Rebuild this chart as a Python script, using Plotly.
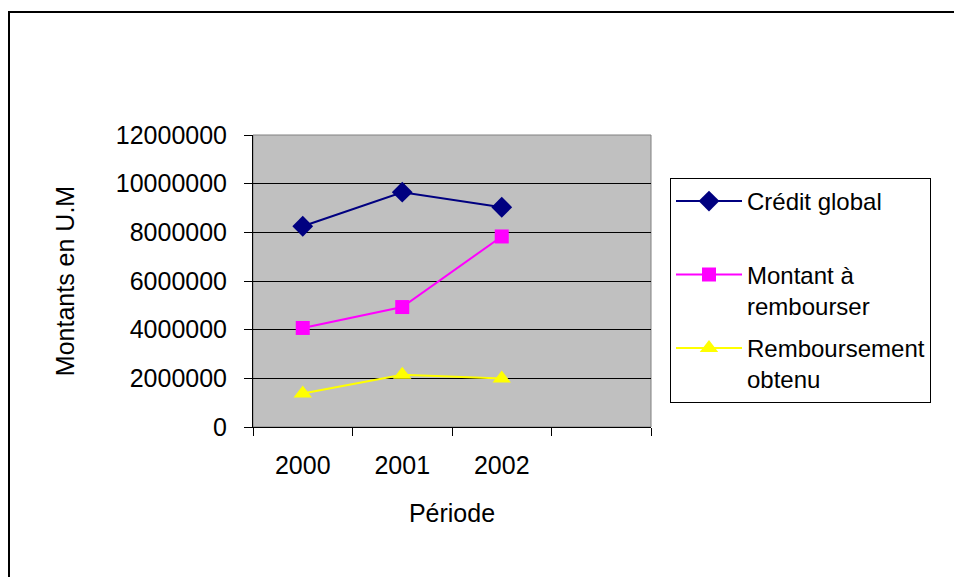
import plotly.graph_objects as go

years = ["2000", "2001", "2002"]
slots = ["2000", "2001", "2002", " "]
credit_global = [8250000, 9650000, 9030000]
montant_rembourser = [4070000, 4930000, 7830000]
remboursement_obtenu = [1380000, 2150000, 1990000]
names = ["Crédit global<br> ", "Montant à<br>rembourser", "Remboursement<br>obtenu"]

FONT = "Arial, Liberation Sans, sans-serif"
OFF = 8  # page body margin
W, H = 962 - OFF, 577 - OFF
# plot area in screen pixels
SL, SR, ST, SB = 253, 651, 135, 427
L, R, T, B = SL - OFF, SR - OFF, ST - OFF, SB - OFF
pw, ph = R - L, B - T

def px(x):
    return (x - OFF - L) / pw

def py(y):
    return (B - (y - OFF)) / ph

fig = go.Figure()
fig.add_trace(go.Scatter(x=years, y=credit_global, name=names[0], mode="lines+markers",
                         line=dict(color="#000080", width=2),
                         marker=dict(symbol="diamond", size=16, color="#000080"),
                         legendgroup="a"))
fig.add_trace(go.Scatter(x=years, y=montant_rembourser, name=names[1], mode="lines+markers",
                         line=dict(color="#FF00FF", width=2),
                         marker=dict(symbol="square", size=14, color="#FF00FF"),
                         legendgroup="b"))
fig.add_trace(go.Scatter(x=years, y=remboursement_obtenu, name=names[2], mode="lines+markers",
                         line=dict(color="#FFFF00", width=2),
                         marker=dict(symbol="triangle-up", size=16, color="#FFFF00"),
                         legendgroup="c"))

fig.update_layout(
    width=W, height=H, autosize=False,
    margin=dict(l=L, r=W - R, t=T, b=H - B, pad=0),
    paper_bgcolor="white", plot_bgcolor="#C0C0C0",
    font=dict(family=FONT, size=25, color="black"),
    showlegend=True,
    legend=dict(x=px(670), y=py(178), xanchor="left", yanchor="top",
                bordercolor="black", borderwidth=1, bgcolor="white",
                font=dict(size=24), tracegroupgap=8, itemwidth=66,
                valign="top", traceorder="grouped"),
    xaxis=dict(type="category", categoryorder="array", categoryarray=slots,
               range=[-0.5, 3.5], tickson="boundaries", ticks="outside", ticklen=8,
               tickcolor="black", showline=True, linecolor="black", linewidth=1,
               showgrid=False, zeroline=False, ticklabelstandoff=16,
               title=dict(text="Période", font=dict(size=25), standoff=26)),
    yaxis=dict(range=[0, 12000000], dtick=2000000, tickformat="d",
               ticks="outside", ticklen=8, tickcolor="black",
               showline=True, linecolor="black", linewidth=1,
               showgrid=True, gridcolor="black", gridwidth=1, zeroline=False,
               ticklabelstandoff=12,
               title=dict(text="Montants en U.M", font=dict(size=25), standoff=34)),
    shapes=[
        dict(type="rect", xref="paper", yref="paper", x0=0, x1=1, y0=0, y1=1,
             line=dict(color="#808080", width=1), layer="below"),
        dict(type="rect", xref="paper", yref="paper",
             x0=px(9), x1=px(1000), y0=py(640), y1=py(12),
             line=dict(color="black", width=2), fillcolor="rgba(0,0,0,0)"),
    ],
)

fig.write_html("out.html")
